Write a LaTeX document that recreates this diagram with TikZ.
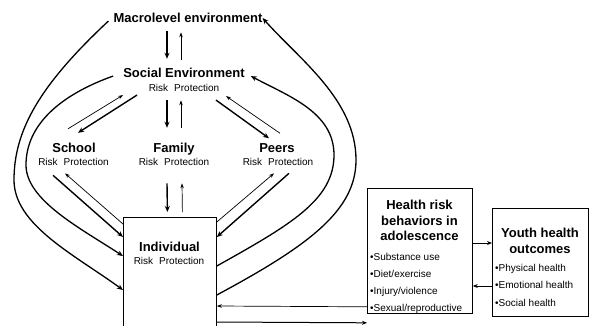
\documentclass[tikz,border=0pt]{standalone}
\usepackage{fontspec}
\setmainfont{Liberation Sans}
\usetikzlibrary{arrows.meta, positioning, calc}

\begin{document}
\begin{tikzpicture}[x=1pt, y=-1pt,
  ttl/.style={font=\fontsize{13}{15.5}\selectfont\bfseries, inner sep=0, anchor=base},
  rp/.style={font=\fontsize{10}{12}\selectfont, inner sep=0, anchor=base},
  item/.style={font=\fontsize{10}{12}\selectfont, inner sep=0, anchor=base west},
  box/.style={draw, line width=0.8pt, inner sep=0, anchor=north west},
  thk/.style={line width=1.4pt, -{Stealth[length=6pt,width=5pt]}},
  thn/.style={line width=0.7pt, -{Stealth[length=5pt,width=3.5pt]}},
  med/.style={line width=1pt, -{Stealth[length=5pt,width=4pt]}},
  curve/.style={line width=1.3pt, -{Stealth[length=6pt,width=5pt]}}]
\useasboundingbox (0,0) rectangle (589,325);

% Context levels
\node[ttl] (macro) at (188,22.7) {Macrolevel environment};
\node[ttl] (social) at (184,77.7) {Social Environment};
\node[rp] (socialrp) at (184,91.6) {Risk\hspace{6pt}Protection};
\node[ttl] (school) at (74,152.7) {School};
\node[rp] (schoolrp) at (73.5,165.6) {Risk\hspace{6pt}Protection};
\node[ttl] (family) at (174,152.7) {Family};
\node[rp] (familyrp) at (174,165.6) {Risk\hspace{6pt}Protection};
\node[ttl] (peers) at (277,152.7) {Peers};
\node[rp] (peersrp) at (278,165.6) {Risk\hspace{6pt}Protection};

% Boxes
\node[box, minimum width=93pt, minimum height=110pt] (indiv) at (123,217) {};
\node[ttl] (indivttl) at (169.5,251.7) {Individual};
\node[rp] (indivrp) at (169,264.6) {Risk\hspace{6pt}Protection};

\node[box, minimum width=105pt, minimum height=125pt] (risk) at (367,188) {};
\node[ttl, align=center, anchor=north] (riskttl) at (419.5,200.3) {Health risk\\behaviors in\\adolescence};
\foreach \txt [count=\i from 0] in {Substance use, {Diet/exercise}, {Injury/violence}, {Sexual/reproductive}}
    \node[item] (hb\i) at (370,260.6+16.8*\i) {•\txt};

\node[box, minimum width=96pt, minimum height=108pt] (youth) at (492,208) {};
\node[ttl, align=center, anchor=north] (youthttl) at (540,228.3) {Youth health\\outcomes};
\foreach \txt [count=\i from 0] in {Physical health, Emotional health, Social health}
    \node[item] (yo\i) at (495,271.3+17.5*\i) {•\txt};

% Vertical links
\draw[thk] ($(macro.south)+(-21,8.3)$) -- ($(social.north)+(-17,-9.3)$);
\draw[thn] ($(social.north)+(-3,-8.3)$) -- ($(macro.south)+(-7,9.3)$);
\draw[thk] ($(socialrp.south)+(-17,8.4)$) -- ($(family.north)+(-7,-15.3)$);
\draw[thn] ($(family.north)+(7,-15.3)$) -- ($(socialrp.south)+(-3,8.4)$);
\draw[thk] ($(familyrp.south)+(-7,17.4)$) -- ($(indiv.north)+(-2.5,-5)$);
\draw[thn] ($(indiv.north)+(12.5,-5)$) -- ($(familyrp.south)+(8,17.4)$);

% Diagonal links
\draw[thn] ($(school.north)+(-6,-14.3)$) -- ($(socialrp.west)+(-25.5,7)$);
\draw[thk] ($(socialrp.west)+(-11.5,7)$) -- ($(school.north)+(4,-10.3)$);
\draw[thk] ($(socialrp.east)+(-3.5,12)$) -- ($(peers.north)+(-8,-5.3)$);
\draw[thn] ($(peers.north)+(3,-10.3)$) -- ($(socialrp.east)+(6.5,8)$);
\draw[thn] ($(indiv.north west)+(0,7)$) -- ($(schoolrp.south)+(-8.5,7.4)$);
\draw[thk] ($(schoolrp.south)+(-20.5,9.4)$) -- ($(indiv.north west)+(0,20)$);
\draw[thn] ($(indiv.north east)+(0,5)$) -- ($(peersrp.south)+(-4,7.4)$);
\draw[thk] ($(peersrp.south)+(11,7.4)$) -- ($(indiv.north east)+(0,20)$);

% Outer loops
\draw[curve] ($(macro.west)+(-5,3)$) .. controls (40,85) and (14,130) .. (14,180)
    .. controls (14,225) and (75,255) .. ($(indiv.north west)+(0,73)$);
\draw[curve] ($(social.west)+(-10,3)$) .. controls (60,95) and (26,125) .. (26,165)
    .. controls (26,200) and (80,228) .. ($(indiv.north west)+(0,39)$);
\draw[curve] ($(indiv.north east)+(0,78)$) .. controls (310,245) and (356,210) .. (356,160)
    .. controls (356,100) and (300,60) .. (macro.east);
\draw[curve] ($(indiv.north east)+(0,49)$) .. controls (290,225) and (334,200) .. (334,155)
    .. controls (334,112) and (288,96) .. ($(social.east)+(6,3)$);

% Behaviour and outcome links
\draw[thn] ($(risk.south west)+(0,-7)$) -- ($(indiv.north east)+(0,89)$);
\draw[med] ($(indiv.north east)+(0,105)$) -- ($(risk.south west)+(0,9)$);
\draw[med] ($(risk.north east)+(0,55)$) -- ($(youth.north west)+(0,35)$);
\draw[med] ($(youth.north west)+(0,78)$) -- ($(risk.north east)+(0,98)$);
\end{tikzpicture}
\end{document}
